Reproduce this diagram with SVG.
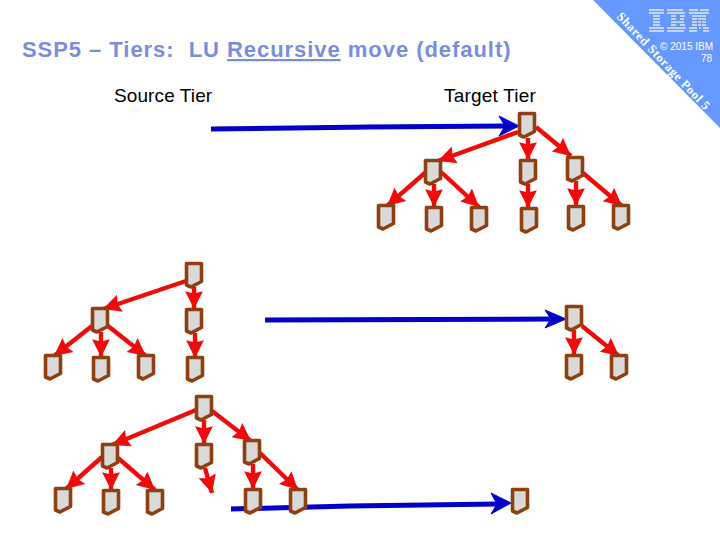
<svg xmlns="http://www.w3.org/2000/svg" width="720" height="540" viewBox="0 0 720 540">
<style>
text{font-family:"Liberation Sans",Arial,sans-serif;fill:#000}
.n{fill:#d9d9d9;stroke:#8f3f10;stroke-width:3.6;stroke-linejoin:round}
.r{stroke:#f00a0a;stroke-width:4.400;fill:none;marker-end:url(#ra)}
.b{stroke:#0000c8;stroke-width:5;fill:none}
.bh{fill:#0000c8;stroke:#0000c8;stroke-width:1;stroke-linejoin:round}
</style>
<defs>
<marker id="ra" markerUnits="userSpaceOnUse" markerWidth="19" markerHeight="19" refX="15" refY="8" orient="auto" viewBox="0 0 16 16"><path d="M0 0.500 L15 8 L0 15.500 L2 8Z" fill="#f00a0a"/></marker>
<path id="nd" class="n" d="M-7.500 -11.500H7.500V6.500L-3 12L-7.500 10Z"/>
</defs>
<polygon points="593,0 720,0 720,128" fill="#6699ff"/>
<g fill="#c4d4f8" id="logo">
<path d="M649 9h15v2h-15zM649 12h15v2h-15zM653 15h7v2h-7zM653 18h7v2h-7zM653 21h7v2h-7zM653 24h7v2h-7zM649 27h15v2h-15zM649 30h15v2h-15z"/>
<path d="M667 9h16v2h-16zM667 12h18v2h-18zM671 15h5v2h-5zM680 15h5v2h-5zM671 18h5v2h-5zM680 18h4v2h-4zM671 21h13v2h-13zM671 24h5v2h-5zM680 24h5v2h-5zM667 27h19v2h-19zM667 30h17v2h-17z"/>
<path d="M689 9h9v2h-9zM700 9h9v2h-9zM689 12h10v2h-10zM699 12h10v2h-10zM692 15h14v2h-14zM692 18h5v2h-5zM698 18h8v2h-8zM692 21h5v2h-5zM698 21h3v2h-3zM702 21h4v2h-4zM692 24h5v2h-5zM698 24h3v2h-3zM702 24h4v2h-4zM689 27h8v2h-8zM699 27h2v2h-2zM703 27h6v2h-6zM689 30h8v2h-8zM703 30h6v2h-6z"/>
</g>
<text x="713" y="50" font-size="10" text-anchor="end" style="fill:#fff">© 2015 IBM</text>
<text x="712" y="62" font-size="10" text-anchor="end" style="fill:#fff">78</text>
<text transform="translate(616 17) rotate(46.500)" font-size="12.500" font-weight="700" textLength="129" lengthAdjust="spacing" style="font-family:'Liberation Serif',serif;fill:#fff">Shared Storage Pool 5</text>
<text x="22" y="57" font-size="22" font-weight="700" letter-spacing="0.95" xml:space="preserve" style="fill:#7a8ee0">SSP5 – Tiers:  LU <tspan text-decoration="underline">Recursive</tspan> move (default)</text>
<text x="114" y="102" font-size="19" letter-spacing="0.1">Source Tier</text>
<text x="444" y="102" font-size="19" letter-spacing="0.2">Target Tier</text>
<g id="connectors">
<path class="b" d="M211 129 L370 127 L505 126"/><path class="bh" d="M499 116 L519 126 L499 136 L505 126Z"/>
<path class="b" d="M265 320 L550 319"/><path class="bh" d="M545 310 L566 319 L545 328 L551 319Z"/>
<path class="b" d="M231 509 L350 506 L498 504"/><path class="bh" d="M491 493 L511 503 L491 514 L497 504Z"/>
<path class="r" d="M518 132L438 161"/><path class="r" d="M528 138V160"/><path class="r" d="M536 127L571 156"/>
<path class="r" d="M426 172L387 206"/><path class="r" d="M434 184V207"/><path class="r" d="M441 172L479 207"/>
<path class="r" d="M528 184V208"/><path class="r" d="M576 181V206"/><path class="r" d="M583 173L622 206"/>
<path class="r" d="M186 281L103 309"/><path class="r" d="M194 287V309"/><path class="r" d="M92 326L54 356"/><path class="r" d="M101 332V357"/><path class="r" d="M108 326L146 356"/><path class="r" d="M195 333V358"/>
<path class="r" d="M574 330V355"/><path class="r" d="M582 326L619 356"/>
<path class="r" d="M196 410L112 445"/><path class="r" d="M204 420V444"/><path class="r" d="M212 411L251 441"/>
<path class="r" d="M102 457L66 489"/><path class="r" d="M111 468V490"/><path class="r" d="M118 458L155 490"/>
<path class="r" d="M205 468L212 493"/><path class="r" d="M253 464V489"/><path class="r" d="M260 453L298 490"/>
</g>
<g id="nodes">
<use id="t0" href="#nd" x="527" y="125"/>
<use id="t1" href="#nd" x="433" y="172"/><use id="t2" href="#nd" x="528" y="172"/><use id="t3" href="#nd" x="575" y="169"/>
<use id="t4" href="#nd" x="386" y="217"/><use id="t5" href="#nd" x="434" y="219"/><use id="t6" href="#nd" x="479" y="219"/><use id="t7" href="#nd" x="529" y="220"/><use id="t8" href="#nd" x="576" y="218"/><use id="t9" href="#nd" x="621" y="217"/>
<use id="m0" href="#nd" x="194" y="275"/><use id="m1" href="#nd" x="100" y="320"/><use id="m2" href="#nd" x="194" y="321"/>
<use id="m3" href="#nd" x="53" y="367"/><use id="m4" href="#nd" x="101" y="369"/><use id="m5" href="#nd" x="146" y="367"/><use id="m6" href="#nd" x="195" y="369"/>
<use id="r0" href="#nd" x="574" y="318"/><use id="r1" href="#nd" x="574" y="367"/><use id="r2" href="#nd" x="619" y="367"/>
<use id="b0" href="#nd" x="204" y="408"/><use id="b1" href="#nd" x="110" y="456"/><use id="b2" href="#nd" x="204" y="456"/><use id="b3" href="#nd" x="252" y="452"/>
<use id="b4" href="#nd" x="63" y="500"/><use id="b5" href="#nd" x="111" y="502"/><use id="b6" href="#nd" x="155" y="502"/><use id="b7" href="#nd" x="253" y="501"/><use id="b8" href="#nd" x="298" y="501"/><use id="b9" href="#nd" x="520" y="501"/>
</g>
</svg>
